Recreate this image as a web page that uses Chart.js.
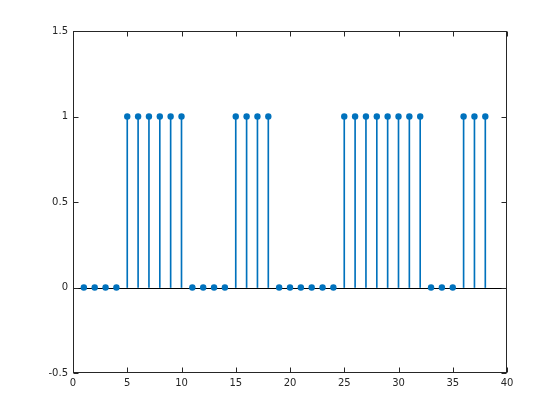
<!DOCTYPE html>
<html>
<head>
<meta charset="utf-8">
<script src="https://cdn.jsdelivr.net/npm/chart.js@4/dist/chart.umd.min.js"></script>
<style>
html,body{margin:0;padding:0;background:#fff;}
#wrap{width:560px;height:420px;}
</style>
</head>
<body>
<div id="wrap"><canvas id="c" width="560" height="420"></canvas></div>
<script>
const xValues = [1,2,3,4,5,6,7,8,9,10,11,12,13,14,15,16,17,18,19,20,21,22,23,24,25,26,27,28,29,30,31,32,33,34,35,36,37,38];
const yValues = [0,0,0,0,1,1,1,1,1,1,0,0,0,0,1,1,1,1,0,0,0,0,0,0,1,1,1,1,1,1,1,1,0,0,0,1,1,1];
const xTicks = [0,5,10,15,20,25,30,35,40];
const yTicks = [-0.5,0,0.5,1,1.5];

const pts = xValues.map((x,i)=>({x:x,y:yValues[i]}));
const blue = '#0072BD';

const axesPlugin = {
  id:'axesPlugin',
  beforeDatasetsDraw(chart){
    const {ctx, chartArea:a, scales:{x,y}} = chart;
    const py = Math.round(y.getPixelForValue(0)) + 0.5;
    ctx.save();
    ctx.strokeStyle = '#000';
    ctx.lineWidth = 1;
    ctx.beginPath();
    ctx.moveTo(a.left, py); ctx.lineTo(a.right, py);
    ctx.stroke();
    ctx.restore();
  },
  afterDraw(chart){
    const {ctx, chartArea:a, scales:{x,y}} = chart;
    ctx.save();
    ctx.strokeStyle = '#262626';
    ctx.lineWidth = 1;
    const L = Math.round(a.left)+0.5, R = Math.round(a.right)-0.5, T = Math.round(a.top)+0.5, B = Math.round(a.bottom)-0.5;
    ctx.strokeRect(L, T, R-L, B-T);
    ctx.beginPath();
    const tl = 5;
    xTicks.forEach(v=>{
      const px = Math.round(x.getPixelForValue(v))+0.5;
      ctx.moveTo(px,B); ctx.lineTo(px,B-tl);
      ctx.moveTo(px,T); ctx.lineTo(px,T+tl);
    });
    yTicks.forEach(v=>{
      const py = Math.round(y.getPixelForValue(v))+0.5;
      ctx.moveTo(L,py); ctx.lineTo(L+tl,py);
      ctx.moveTo(R,py); ctx.lineTo(R-tl,py);
    });
    ctx.stroke();
    ctx.restore();
  }
};

new Chart(document.getElementById('c'), {
  type:'bar',
  data:{
    datasets:[
      {type:'bar', data:pts, backgroundColor:blue, borderWidth:0, barThickness:1, order:2},
      {type:'scatter', data:pts, backgroundColor:blue, borderColor:blue, pointRadius:3.2, pointBorderWidth:0, pointStyle:'circle', order:1}
    ]
  },
  plugins:[axesPlugin],
  options:{
    responsive:false,
    animation:false,
    layout:{padding:{top:31,right:53,left:0,bottom:0}},
    plugins:{legend:{display:false}, tooltip:{enabled:false}},
    scales:{
      x:{
        type:'linear', min:0, max:40, offset:false,
        grid:{display:false, drawTicks:false, tickLength:0}, border:{display:false},
        afterBuildTicks(s){ s.ticks = xTicks.map(v=>({value:v})); },
        afterFit(s){ s.height = 47; },
        ticks:{color:'#262626', font:{family:'DejaVu Sans', size:10}, padding:4, maxRotation:0, callback:(v)=>String(v)}
      },
      y:{
        type:'linear', min:-0.5, max:1.5,
        grid:{display:false, drawTicks:false, tickLength:0}, border:{display:false},
        afterBuildTicks(s){ s.ticks = yTicks.map(v=>({value:v})); },
        afterFit(s){ s.width = 73; },
        ticks:{color:'#262626', font:{family:'DejaVu Sans', size:10}, padding:5, callback:(v)=>String(v)}
      }
    }
  }
});
</script>
</body>
</html>
